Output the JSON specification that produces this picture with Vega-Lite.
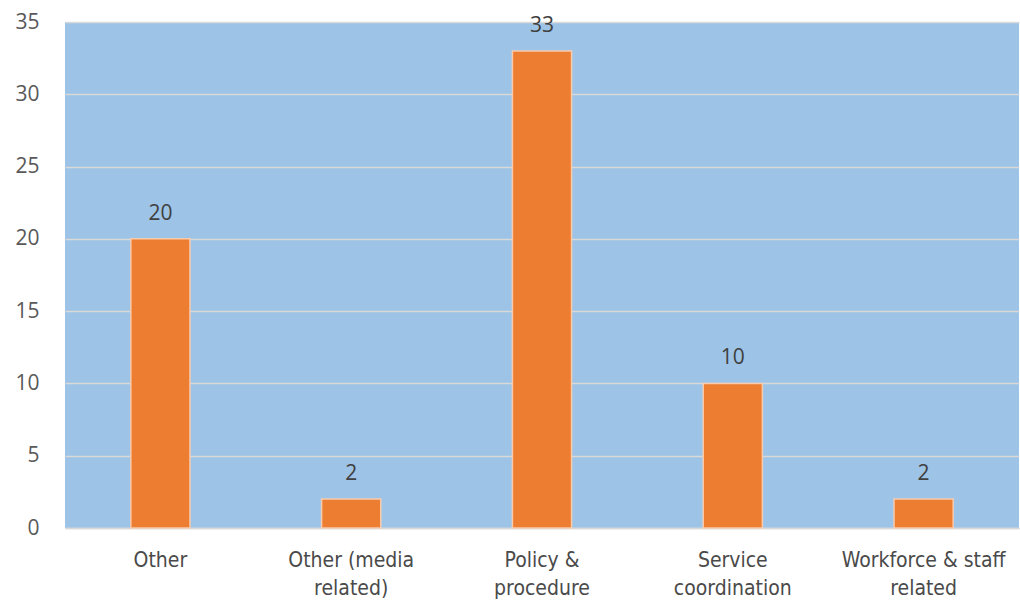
{
  "$schema": "https://vega.github.io/schema/vega-lite/v6.json",
  "autosize": {"type": "none"},
  "padding": {"left": 65, "top": 22, "right": 1, "bottom": 75},
  "width": 954,
  "height": 506,
  "background": "white",
  "config": {
    "view": {"fill": "#9DC3E6", "stroke": null},
    "axis": {"grid": false}
  },
  "data": {
    "values": [
      {"category": "Other", "value": 20},
      {"category": "Other (media related)", "value": 2},
      {"category": "Policy & procedure", "value": 33},
      {"category": "Service coordination", "value": 10},
      {"category": "Workforce & staff related", "value": 2}
    ]
  },
  "encoding": {
    "x": {
      "field": "category",
      "type": "nominal",
      "sort": null,
      "scale": {"paddingInner": 0.69, "paddingOuter": 0.345},
      "axis": {
        "title": null,
        "labelAngle": 0,
        "labelExpr": "datum.value == 'Other' ? 'Other' : datum.value == 'Other (media related)' ? ['Other (media', 'related)'] : datum.value == 'Policy & procedure' ? ['Policy &', 'procedure'] : datum.value == 'Service coordination' ? ['Service', 'coordination'] : ['Workforce & staff', 'related']",
        "labelFont": "'Liberation Sans Narrow', 'DejaVu Sans Condensed', 'Roboto', sans-serif",
        "labelFontSize": 21,
        "labelLimit": 0,
        "labelLineHeight": 28,
        "labelColor": "#4A4A4A",
        "labelPadding": 21,
        "ticks": false,
        "domain": true,
        "domainColor": "#D9D9D9",
        "domainWidth": 1.5,
        "labelBaseline": "top"
      }
    },
    "y": {
      "field": "value",
      "type": "quantitative",
      "scale": {"domain": [0, 35]},
      "axis": {
        "title": null,
        "values": [0, 5, 10, 15, 20, 25, 30, 35],
        "grid": true,
        "gridColor": "#D9D9D9",
        "gridWidth": 1.5,
        "domain": false,
        "ticks": false,
        "labelFont": "Open Sans",
        "labelFontSize": 21,
        "labelColor": "#595959",
        "labelPadding": 26
      }
    }
  },
  "layer": [
    {
      "mark": {"type": "bar", "color": "#ED7D31", "stroke": "#F8CBAD", "strokeWidth": 1.5}
    },
    {
      "mark": {"type": "text", "baseline": "bottom", "dy": -15, "font": "Open Sans", "fontSize": 21, "color": "#404040"},
      "encoding": {"text": {"field": "value", "type": "quantitative"}}
    }
  ]
}
